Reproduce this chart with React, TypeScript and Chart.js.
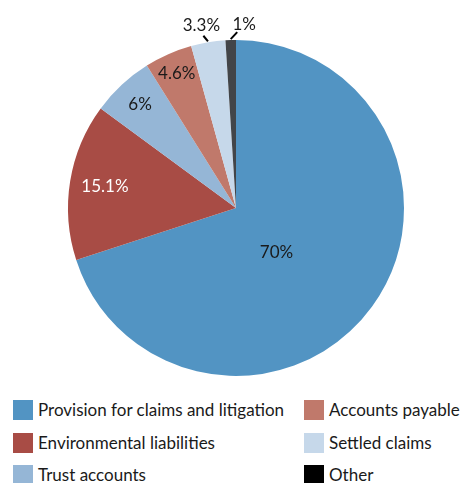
import React, { useEffect, useRef } from "react";
import { Chart, registerables } from "chart.js";

Chart.register(...registerables);

const categories = [
  "Provision for claims and litigation",
  "Environmental liabilities",
  "Trust accounts",
  "Accounts payable",
  "Settled claims",
  "Other",
];
const values = [70, 15.1, 6, 4.6, 3.3, 1];
const valueLabels = ["70%", "15.1%", "6%", "4.6%", "3.3%", "1%"];

const sliceColors = ["#5294c3", "#a84c45", "#95b6d6", "#c0796b", "#c6d8ea", "#424549"];
const legendColors = ["#5294c3", "#a84c45", "#95b6d6", "#c0796b", "#c6d8ea", "#000000"];

// label styling / placement (not data)
const labelColors = ["#1a1a1a", "#ffffff", "#1a1a1a", "#1a1a1a", "#1a1a1a", "#1a1a1a"];
const labelInside = [true, true, true, true, false, false];
const labelRadiusFrac = [0.36, 0.79, 0.84, 0.875, 1.1, 1.095];
const labelAngleShiftDeg = [12, 0, 0, 0, 0, 0];
const labelNudgeX = [0, 0, 0, 0, -4, 14];
const leaderStartDX = [0, 0, 0, 0, 2, -7];
const leaderStartDY = [0, 0, 0, 0, 10, 8];

const FONT = "Lato, 'Open Sans', sans-serif";

const labelPlugin = {
  id: "sliceLabels",
  afterDatasetsDraw(chart: any) {
    const ctx = chart.ctx;
    const meta = chart.getDatasetMeta(0);
    ctx.save();
    ctx.font = `17px ${FONT}`;
    ctx.textAlign = "center";
    ctx.textBaseline = "middle";
    meta.data.forEach((arc: any, i: number) => {
      const p = arc.getProps(["x", "y", "startAngle", "endAngle", "outerRadius"], true);
      const mid = (p.startAngle + p.endAngle) / 2 + (labelAngleShiftDeg[i] * Math.PI) / 180;
      const r = p.outerRadius * labelRadiusFrac[i];
      const lx = p.x + r * Math.cos(mid) + labelNudgeX[i];
      const ly = p.y + r * Math.sin(mid);
      ctx.fillStyle = labelColors[i];
      ctx.fillText(valueLabels[i], lx, ly);
      if (!labelInside[i]) {
        const m0 = (p.startAngle + p.endAngle) / 2;
        const ex = p.x + (p.outerRadius + 1) * Math.cos(m0);
        const ey = p.y + (p.outerRadius + 1) * Math.sin(m0);
        ctx.strokeStyle = "#000";
        ctx.lineWidth = 2;
        ctx.beginPath();
        ctx.moveTo(lx + leaderStartDX[i], ly + leaderStartDY[i]);
        ctx.lineTo(ex, ey);
        ctx.stroke();
      }
    });
    ctx.restore();
  },
};

export default function App() {
  const canvasRef = useRef<HTMLCanvasElement | null>(null);

  useEffect(() => {
    if (!canvasRef.current) return;
    const chart = new Chart(canvasRef.current, {
      type: "pie",
      data: {
        labels: categories,
        datasets: [
          {
            data: values,
            backgroundColor: sliceColors,
            borderWidth: 0,
          },
        ],
      },
      options: {
        animation: false,
        responsive: false,
        maintainAspectRatio: false,
        layout: { padding: { left: 68, right: 57, top: 40, bottom: 14 } },
        plugins: {
          legend: { display: false },
          tooltip: { enabled: false },
        },
      },
      plugins: [labelPlugin],
    });
    return () => chart.destroy();
  }, []);

  const order = [0, 3, 1, 4, 2, 5];

  return (
    <div
      style={{
        position: "absolute",
        left: 0,
        top: 0,
        width: 461,
        height: 483,
        background: "#ffffff",
        overflow: "hidden",
        fontFamily: FONT,
      }}
    >
      <canvas
        ref={canvasRef}
        width={461}
        height={390}
        style={{ position: "absolute", left: 0, top: 0, width: 461, height: 390 }}
      />
      {order.map((idx, k) => {
        const col = k % 2;
        const row = Math.floor(k / 2);
        return (
          <div
            key={idx}
            style={{
              position: "absolute",
              left: col === 0 ? 13 : 304,
              top: 400 + row * 32.7,
              height: 20,
              display: "flex",
              alignItems: "center",
              whiteSpace: "nowrap",
            }}
          >
            <span
              style={{
                display: "inline-block",
                width: 20,
                height: 20,
                background: legendColors[idx],
                marginRight: 5,
                flexShrink: 0,
              }}
            />
            <span style={{ fontSize: 17, color: "#1a1a1a", lineHeight: "20px" }}>
              {categories[idx]}
            </span>
          </div>
        );
      })}
    </div>
  );
}
